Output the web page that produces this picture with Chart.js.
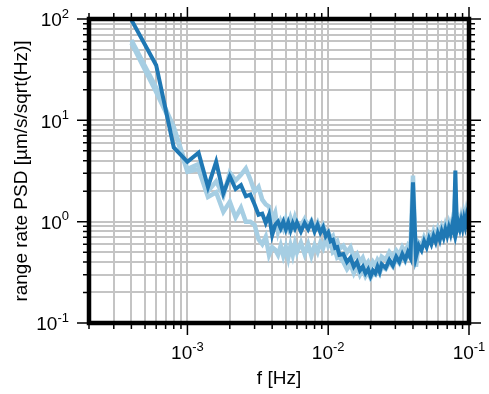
<!DOCTYPE html>
<html lang="en">
<head>
<meta charset="UTF-8">
<title>Range rate PSD</title>
<script src="https://cdn.jsdelivr.net/npm/chart.js"></script>
<style>
  body { margin: 0; background: #fff; }
  canvas { display: block; }
</style>
</head>
<body>
<canvas id="chart" width="489" height="394"></canvas>
<script>
// frequency bins [Hz], shared by the three spectra
const freqHz = [
  0.0004, 0.0006, 0.0008, 0.0010, 0.0012, 0.0014, 0.0016, 0.0018, 0.0020, 0.0022,
  0.0024, 0.0026, 0.0028, 0.0030, 0.0032, 0.0034, 0.0036, 0.0038, 0.0040, 0.0042,
  0.0044, 0.0046, 0.0048, 0.0050, 0.0052, 0.0054, 0.0056, 0.0058, 0.0060,
  0.0064, 0.0068, 0.0072, 0.0076, 0.0080, 0.0084, 0.0088, 0.0092, 0.0096, 0.0100,
  0.0104, 0.0108, 0.0112, 0.0116, 0.0120,
  0.0128, 0.0136, 0.0144, 0.0152, 0.0160, 0.0168, 0.0176, 0.0184, 0.0192, 0.0200,
  0.0208, 0.0216, 0.0224, 0.0232, 0.0240,
  0.0256, 0.0272, 0.0288, 0.0304, 0.0320, 0.0336, 0.0352, 0.0368, 0.0384, 0.0400,
  0.042, 0.044, 0.046, 0.048, 0.050, 0.052, 0.054, 0.056, 0.058, 0.060,
  0.062, 0.064, 0.066, 0.068, 0.070, 0.072, 0.074, 0.076, 0.078, 0.080,
  0.082, 0.084, 0.086, 0.088, 0.090, 0.092, 0.094, 0.096, 0.098, 0.100
];

// range rate PSD [um/s/sqrt(Hz)]
const psdDark = [
  98, 35, 5.4, 3.9, 4.8, 2.2, 3.9, 1.9, 2.8, 2.1,
  2.3, 1.78, 1.85, 1.48, 1.17, 1.2, 0.97, 1.17, 0.74, 0.93,
  1.0, 0.86, 1.0, 0.84, 0.98, 0.82, 0.96, 0.86, 0.98,
  0.80, 0.97, 0.84, 0.99, 0.80, 0.93, 0.78, 0.88, 0.72, 0.78,
  0.64, 0.66, 0.55, 0.56, 0.47,
  0.48, 0.40, 0.44, 0.36, 0.40, 0.33, 0.36, 0.31, 0.34, 0.29,
  0.33, 0.31, 0.36, 0.32, 0.38,
  0.35, 0.42, 0.37, 0.45, 0.40, 0.48, 0.42, 0.50, 0.44, 2.45,
  0.45, 0.58, 0.52, 0.64, 0.56, 0.68, 0.60, 0.72, 0.63, 0.76,
  0.66, 0.80, 0.70, 0.84, 0.73, 0.87, 0.76, 0.92, 0.80, 3.2,
  0.84, 0.98, 0.86, 1.02, 0.88, 1.06, 0.92, 1.10, 0.95, 1.08
];

const psdLightA = [
  62, 21, 8.6, 3.3, 3.7, 2.0, 2.5, 1.8, 3.05, 2.55,
  2.9, 3.35, 2.6, 1.98, 2.2, 1.65, 1.48, 1.41, 1.05, 1.23,
  0.80, 1.0, 0.86, 1.05, 0.88, 1.08, 0.92, 1.10, 0.95,
  0.92, 1.06, 0.90, 1.02, 0.86, 0.98, 0.82, 0.92, 0.78, 0.80,
  0.68, 0.72, 0.60, 0.64, 0.54,
  0.58, 0.50, 0.56, 0.44, 0.48, 0.40, 0.44, 0.37, 0.40, 0.35,
  0.40, 0.37, 0.42, 0.39, 0.45,
  0.42, 0.50, 0.45, 0.52, 0.47, 0.56, 0.50, 0.58, 0.52, 2.85,
  0.36, 0.62, 0.58, 0.70, 0.62, 0.74, 0.66, 0.80, 0.70, 0.84,
  0.74, 0.88, 0.78, 0.93, 0.82, 0.97, 0.86, 1.02, 0.90, 2.0,
  0.78, 1.06, 0.95, 1.12, 0.98, 1.18, 1.02, 1.25, 1.10, 1.20
];

const psdLightB = [
  58, 19, 8.2, 3.1, 3.3, 1.75, 1.95, 1.25, 1.57, 1.1,
  1.37, 1.0, 1.0, 0.93, 0.67, 0.6, 0.71, 0.47, 0.56, 0.53,
  0.47, 0.58, 0.46, 0.56, 0.44, 0.58, 0.47, 0.60, 0.50,
  0.62, 0.48, 0.60, 0.46, 0.58, 0.50, 0.62, 0.55, 0.68, 0.58,
  0.64, 0.50, 0.52, 0.44, 0.45,
  0.40, 0.34, 0.38, 0.31, 0.36, 0.30, 0.34, 0.29, 0.32, 0.28,
  0.31, 0.30, 0.34, 0.31, 0.36,
  0.34, 0.40, 0.36, 0.43, 0.39, 0.46, 0.41, 0.48, 0.44, 0.60,
  0.50, 0.60, 0.56, 0.66, 0.60, 0.70, 0.64, 0.74, 0.68, 0.78,
  0.71, 0.82, 0.75, 0.86, 0.79, 0.90, 0.82, 0.94, 0.85, 0.98,
  0.88, 1.02, 0.92, 1.06, 0.95, 1.10, 0.98, 1.14, 1.05, 1.12
];

// axis limits and labelled decades
const xRange = [2e-4, 1e-1];
const yRange = [1e-1, 1e2];
const xDecades = [-3, -2, -1];
const yDecades = [-1, 0, 1, 2];

const FONT = '"Liberation Sans", Arial, Helvetica, sans-serif';

// 1..9 x 10^n inside [lo, hi]
function logTicks(lo, hi) {
  const out = [];
  for (let e = Math.floor(Math.log10(lo)); e <= Math.ceil(Math.log10(hi)); e++) {
    for (let m = 1; m <= 9; m++) {
      const v = +(m * Math.pow(10, e)).toPrecision(3);
      if (v >= lo * 0.999 && v <= hi * 1.001) out.push(v);
    }
  }
  return out;
}
const xTicks = logTicks(xRange[0], xRange[1]);
const yTicks = logTicks(yRange[0], yRange[1]);
const isDecade = v => Math.abs(Math.log10(v) - Math.round(Math.log10(v))) < 1e-6;

function pairs(ys) {
  return freqHz.map((f, i) => ({ x: f, y: ys[i] }));
}

// "10" with a raised exponent; align: 'center' or 'right'
function powerLabel(ctx, exp, x, y, align) {
  const base = '10', sup = String(exp);
  ctx.font = '19px ' + FONT;
  const wb = ctx.measureText(base).width;
  ctx.font = '13px ' + FONT;
  const ws = ctx.measureText(sup).width;
  const w = wb + ws;
  const x0 = align === 'right' ? x - w : x - w / 2;
  ctx.textBaseline = 'middle';
  ctx.textAlign = 'left';
  ctx.font = '19px ' + FONT;
  ctx.fillText(base, x0, y);
  ctx.font = '13px ' + FONT;
  ctx.fillText(sup, x0 + wb, y - 7);
}

const framePlugin = {
  id: 'frame',
  afterDraw(chart) {
    const { ctx, chartArea: a, scales: { x, y } } = chart;
    ctx.save();
    ctx.strokeStyle = '#000';
    ctx.fillStyle = '#000';

    // outward ticks on all four sides
    ctx.lineWidth = 1.5;
    ctx.beginPath();
    xTicks.forEach(v => {
      const px = x.getPixelForValue(v);
      const len = isDecade(v) ? 12 : 6;
      ctx.moveTo(px, a.bottom); ctx.lineTo(px, a.bottom + len);
      ctx.moveTo(px, a.top); ctx.lineTo(px, a.top - len);
    });
    yTicks.forEach(v => {
      const py = y.getPixelForValue(v);
      const len = isDecade(v) ? 12 : 6;
      ctx.moveTo(a.left, py); ctx.lineTo(a.left - len, py);
      ctx.moveTo(a.right, py); ctx.lineTo(a.right + len, py);
    });
    ctx.stroke();

    // heavy box
    ctx.lineWidth = 4.5;
    ctx.strokeRect(a.left, a.top, a.right - a.left, a.bottom - a.top);

    // tick labels
    xDecades.forEach(e => powerLabel(ctx, e, x.getPixelForValue(Math.pow(10, e)), a.bottom + 31, 'center'));
    yDecades.forEach(e => powerLabel(ctx, e, a.left - 20, y.getPixelForValue(Math.pow(10, e)) + 2, 'right'));

    // axis titles
    ctx.font = '19px ' + FONT;
    ctx.textAlign = 'center';
    ctx.textBaseline = 'middle';
    ctx.fillText('f [Hz]', (a.left + a.right) / 2, 379);
    ctx.translate(22, (a.top + a.bottom) / 2);
    ctx.rotate(-Math.PI / 2);
    ctx.fillText('range rate PSD [\u00b5m/s/sqrt(Hz)]', 0, 0);
    ctx.restore();
  }
};

function axis(range, ticks, horizontal) {
  return {
    type: 'logarithmic',
    min: range[0],
    max: range[1],
    afterBuildTicks: s => { s.ticks = ticks.map(v => ({ value: v })); },
    afterFit: s => { if (horizontal) s.height = 0; else s.width = 0; },
    ticks: { display: false },
    grid: { color: '#c4c4c4', lineWidth: 2, drawTicks: false },
    border: { display: false }
  };
}

new Chart(document.getElementById('chart').getContext('2d'), {
  type: 'line',
  data: {
    datasets: [
      { data: pairs(psdDark), borderColor: '#1f78b4', borderWidth: 4, order: 0 },
      { data: pairs(psdLightA), borderColor: '#a6cee3', borderWidth: 4.5, order: 1 },
      { data: pairs(psdLightB), borderColor: '#a6cee3', borderWidth: 4.5, order: 2 }
    ]
  },
  options: {
    responsive: false,
    animation: false,
    layout: { padding: { left: 89, right: 20, top: 19, bottom: 71 } },
    elements: { point: { radius: 0 }, line: { tension: 0, borderJoinStyle: 'miter' } },
    plugins: { legend: { display: false }, tooltip: { enabled: false } },
    scales: {
      x: axis(xRange, xTicks, true),
      y: axis(yRange, yTicks, false)
    }
  },
  plugins: [framePlugin]
});
</script>
</body>
</html>
